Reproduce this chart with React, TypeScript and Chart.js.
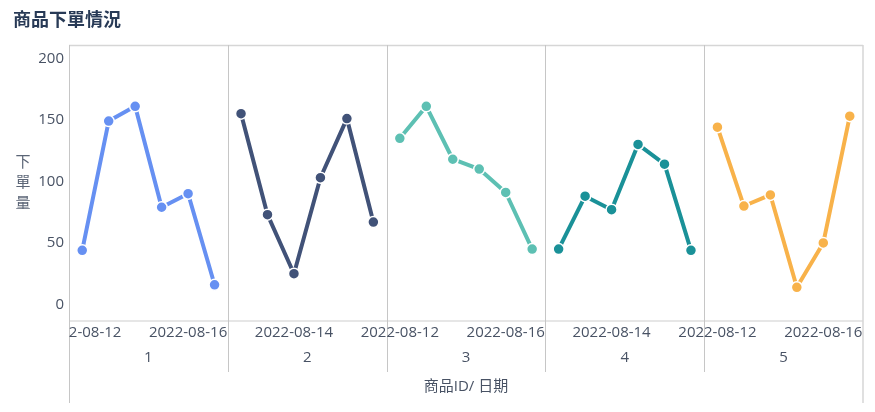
import { useEffect, useRef } from "react";
import { Chart, registerables } from "chart.js";

Chart.register(...registerables);

const TITLE = "商品下單情況";
const Y_TITLE = "下單量";
const X_TITLE = "商品ID/ 日期";

const dates = ["2022-08-12", "2022-08-13", "2022-08-14", "2022-08-15", "2022-08-16", "2022-08-17"];
const productIds = ["1", "2", "3", "4", "5"];

const product1 = [44, 149, 161, 79, 90, 16];
const product2 = [155, 73, 25, 103, 151, 67];
const product3 = [135, 161, 118, 110, 91, 45];
const product4 = [45, 88, 77, 130, 114, 44];
const product5 = [144, 80, 89, 14, 50, 153];
const seriesValues = [product1, product2, product3, product4, product5];

const yTicks = [0, 50, 100, 150, 200];
const Y_MIN = -13.4;
const Y_MAX = 210.8;

const colors = ["#6690F2", "#415278", "#5DC0B3", "#1A9198", "#F8B24A"];

const FONT = '"Open Sans", "Noto Sans CJK TC", sans-serif';
const TEXT = "#485264";

export default function App() {
  const ref = useRef<HTMLCanvasElement | null>(null);

  useEffect(() => {
    if (!ref.current) return;
    const n = dates.length;
    const labels = productIds.flatMap(() => dates);
    const datasets = seriesValues.map((vals, g) => ({
      label: productIds[g],
      data: labels.map((_, i) => (Math.floor(i / n) === g ? vals[i % n] : null)),
      borderColor: colors[g],
      backgroundColor: colors[g],
      pointBackgroundColor: colors[g],
      pointBorderColor: "#ffffff",
      pointBorderWidth: 1.5,
      pointRadius: 5.5,
      borderWidth: 4,
      borderJoinStyle: "bevel" as const,
      spanGaps: false,
      tension: 0,
    }));

    const facetPlugin = {
      id: "facet",
      beforeDatasetsDraw(chart: any) {
        const { ctx, chartArea } = chart;
        const xs = chart.scales.x;
        const { left, right, top, bottom } = chartArea;
        ctx.save();
        ctx.strokeStyle = "#e6e6e6";
        ctx.lineWidth = 2;
        ctx.beginPath();
        ctx.moveTo(left, bottom);
        ctx.lineTo(right, bottom);
        ctx.stroke();
        ctx.strokeStyle = "#d6d6d6";
        ctx.lineWidth = 1.5;
        ctx.beginPath();
        ctx.moveTo(left, top + 0.5);
        ctx.lineTo(right, top + 0.5);
        ctx.stroke();
        ctx.strokeStyle = "#c6c6c6";
        ctx.lineWidth = 1;
        for (let g = 1; g < productIds.length; g++) {
          const x = Math.round((xs.getPixelForValue(g * n - 1) + xs.getPixelForValue(g * n)) / 2) + 0.5;
          ctx.beginPath();
          ctx.moveTo(x, top);
          ctx.lineTo(x, bottom + 51);
          ctx.stroke();
        }
        ctx.beginPath();
        ctx.moveTo(left + 0.5, top);
        ctx.lineTo(left + 0.5, bottom + 82);
        ctx.stroke();
        ctx.strokeStyle = "#d6d6d6";
        ctx.lineWidth = 1.5;
        ctx.beginPath();
        ctx.moveTo(right, top);
        ctx.lineTo(right, bottom + 82);
        ctx.stroke();
        ctx.restore();
      },
      afterDraw(chart: any) {
        const { ctx, chartArea } = chart;
        const xs = chart.scales.x;
        const { left, right, top, bottom } = chartArea;
        ctx.save();
        ctx.fillStyle = "#283a56";
        ctx.font = `bold 18px ${FONT}`;
        ctx.textAlign = "left";
        ctx.textBaseline = "middle";
        ctx.fillText(TITLE, 13, 21);

        ctx.fillStyle = "#5b6576";
        ctx.font = `15px ${FONT}`;
        ctx.textAlign = "center";
        const chars = Array.from(Y_TITLE);
        const midY = (top + bottom) / 2;
        chars.forEach((c, i) => {
          ctx.fillText(c, 23, midY + (i - (chars.length - 1) / 2) * 20.5);
        });

        ctx.font = `15px ${FONT}`;
        ctx.fillStyle = TEXT;
        const w = ctx.measureText(dates[0]).width;
        const spacing = xs.getPixelForValue(1) - xs.getPixelForValue(0);
        const step = Math.max(1, Math.ceil((w + 10) / spacing));
        ctx.save();
        ctx.beginPath();
        ctx.rect(left, bottom, right - left + 1, 40);
        ctx.clip();
        const total = productIds.length * n;
        for (let i = 0; i < total; i += step) {
          ctx.fillText(dates[i % n], xs.getPixelForValue(i), bottom + 12);
        }
        ctx.restore();

        productIds.forEach((id, g) => {
          const x = (xs.getPixelForValue(g * n) + xs.getPixelForValue(g * n + n - 1)) / 2;
          ctx.fillText(id, x, bottom + 37);
        });

        ctx.fillText(X_TITLE, (left + right) / 2, bottom + 66);
        ctx.restore();
      },
    };

    const chart = new Chart(ref.current, {
      type: "line",
      data: { labels, datasets },
      options: {
        animation: false,
        responsive: false,
        layout: { padding: { top: 45, right: 12, left: 0, bottom: 0 } },
        plugins: { legend: { display: false }, tooltip: { enabled: false }, title: { display: false } },
        scales: {
          x: {
            type: "category",
            offset: true,
            grid: { display: false },
            border: { display: false },
            ticks: { display: false },
            afterFit: (s: any) => {
              s.height = 91;
            },
          },
          y: {
            type: "linear",
            min: Y_MIN,
            max: Y_MAX,
            grid: { display: false, drawTicks: false },
            border: { display: false },
            afterBuildTicks: (s: any) => {
              s.ticks = yTicks.map((v) => ({ value: v }));
            },
            ticks: {
              padding: 5,
              color: TEXT,
              font: { family: FONT, size: 15 },
            },
            afterFit: (s: any) => {
              s.width = 69;
            },
          },
        },
      },
      plugins: [facetPlugin],
    });
    return () => chart.destroy();
  }, []);

  return (
    <div style={{ position: "absolute", left: 0, top: 0, width: 875, height: 412, background: "#fff" }}>
      <canvas ref={ref} width={875} height={412} style={{ width: 875, height: 412, display: "block" }} />
    </div>
  );
}
